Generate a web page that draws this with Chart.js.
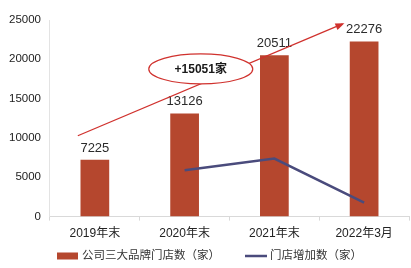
<!DOCTYPE html>
<html>
<head>
<meta charset="utf-8">
<script src="https://cdn.jsdelivr.net/npm/chart.js@4"></script>
<style>
  html, body { margin: 0; padding: 0; background: #fff; }
  #wrap { width: 411px; height: 268px; }
</style>
</head>
<body>
<div id="wrap"><canvas id="storeChart" width="411" height="268"></canvas></div>
<script>
const categories = ["2019年末", "2020年末", "2021年末", "2022年3月"];
const storeCounts = [7225, 13126, 20511, 22276];
const storeIncrease = [null, 5901, 7385, 1765];
const yTicks = [0, 5000, 10000, 15000, 20000, 25000];
const barLabel = "公司三大品牌门店数（家）";
const lineLabel = "门店增加数（家）";
const growthText = "+15051家";

const barColor = "#b5472e";
const lineColor = "#4a4b7c";
const arrowColor = "#d0312d";
const fontFamily = "'Liberation Sans', Arial, 'Noto Sans CJK SC', sans-serif";

// value labels above bars, arrow + ellipse note, and legend
const extras = {
  id: "extras",
  afterDatasetsDraw(chart) {
    const c = chart.ctx;
    const xs = chart.scales.x, ys = chart.scales.y;
    const bars = chart.getDatasetMeta(1).data;

    c.save();
    c.font = "13px " + fontFamily;
    c.fillStyle = "#2b2b2b";
    c.textAlign = "center";
    c.textBaseline = "bottom";
    bars.forEach((b, i) => c.fillText(String(storeCounts[i]), b.x, b.y - 5));

    // growth arrow, anchored in data units
    const step = xs.getPixelForValue(1) - xs.getPixelForValue(0);
    const x0 = xs.getPixelForValue(0) - 0.19 * step;
    const x1 = xs.getPixelForValue(0) + 2.76 * step;
    const y0 = ys.getPixelForValue(10280);
    const y1 = ys.getPixelForValue(24500);
    c.strokeStyle = arrowColor;
    c.fillStyle = arrowColor;
    c.lineWidth = 1.3;
    c.beginPath();
    c.moveTo(x0, y0);
    c.lineTo(x1, y1);
    c.stroke();
    const ang = Math.atan2(y1 - y0, x1 - x0);
    c.beginPath();
    c.moveTo(x1 + 2 * Math.cos(ang), y1 + 2 * Math.sin(ang));
    c.lineTo(x1 - 7 * Math.cos(ang) + 3.5 * Math.sin(ang), y1 - 7 * Math.sin(ang) - 3.5 * Math.cos(ang));
    c.lineTo(x1 - 7 * Math.cos(ang) - 3.5 * Math.sin(ang), y1 - 7 * Math.sin(ang) + 3.5 * Math.cos(ang));
    c.closePath();
    c.fill();

    // ellipse note
    const ex = xs.getPixelForValue(0) + 1.18 * step;
    const ey = ys.getPixelForValue(18780);
    c.beginPath();
    c.ellipse(ex, ey, 52, 15, 0, 0, Math.PI * 2);
    c.fillStyle = "#fff";
    c.fill();
    c.lineWidth = 1.2;
    c.strokeStyle = arrowColor;
    c.stroke();
    c.fillStyle = "#1a1a1a";
    c.font = "bold 12px " + fontFamily;
    c.textBaseline = "middle";
    c.fillText(growthText, ex, ey + 1);

    // legend
    const ly = 256;
    c.font = "11.5px " + fontFamily;
    c.textAlign = "left";
    c.fillStyle = barColor;
    c.fillRect(57, ly - 3.5, 21, 7);
    c.fillStyle = "#333";
    c.fillText(barLabel, 82, ly);
    c.strokeStyle = lineColor;
    c.lineWidth = 2.5;
    c.beginPath();
    c.moveTo(245, ly);
    c.lineTo(267, ly);
    c.stroke();
    c.fillText(lineLabel, 270, ly);
    c.restore();
  }
};

new Chart(document.getElementById("storeChart").getContext("2d"), {
  data: {
    labels: categories,
    datasets: [
      {
        type: "line",
        label: lineLabel,
        data: storeIncrease,
        borderColor: lineColor,
        borderWidth: 2.5,
        pointRadius: 0,
        tension: 0,
        order: 0
      },
      {
        type: "bar",
        label: barLabel,
        data: storeCounts,
        backgroundColor: barColor,
        barPercentage: 0.64,
        categoryPercentage: 0.5,
        order: 1
      }
    ]
  },
  options: {
    responsive: false,
    animation: false,
    layout: { padding: { left: 0, right: 2, top: 20, bottom: 21 } },
    plugins: {
      legend: { display: false },
      tooltip: { enabled: false }
    },
    scales: {
      x: {
        grid: { display: true, drawOnChartArea: false, drawTicks: true, tickLength: 4, color: "#d9d9d9" },
        border: { color: "#d9d9d9" },
        ticks: { color: "#222", font: { size: 12, family: fontFamily }, padding: 6 }
      },
      y: {
        min: 0,
        max: 25000,
        afterBuildTicks(axis) { axis.ticks = yTicks.map(v => ({ value: v })); },
        grid: { display: false, drawTicks: false },
        border: { display: true, color: "#e3e3e3" },
        ticks: { color: "#222", font: { size: 11.5, family: fontFamily }, padding: 9, callback: v => String(v) }
      }
    }
  },
  plugins: [extras]
});
</script>
</body>
</html>
